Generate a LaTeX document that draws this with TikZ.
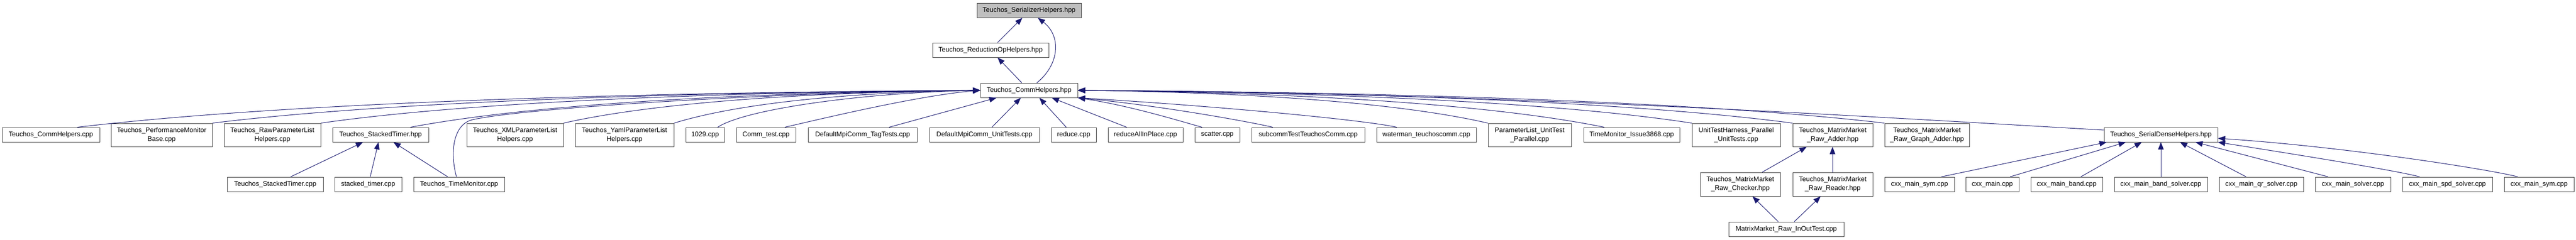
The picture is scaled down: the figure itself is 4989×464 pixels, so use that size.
\documentclass[tikz,border=0pt]{standalone}
\usepackage{fontspec}
\setmainfont{Liberation Sans}
\usetikzlibrary{arrows.meta}
\definecolor{mblue}{HTML}{191970}
\definecolor{hgray}{HTML}{BFBFBF}
\newcommand\mknode[6]{\node[nbox, minimum width={(#4-#2)*0.75pt}, minimum height={(#5-#3)*0.75pt}] (#1) at ({(#2+#4)/2},{(#3+#5)/2}) {#6};}
\begin{document}
\begin{tikzpicture}[x=0.75pt,y=-0.75pt,
  nbox/.style={draw=black!75, line width=0.75pt, fill=white, inner sep=0pt, align=center, font=\fontsize{9.75pt}{12.75pt}\selectfont},
  edge/.style={draw=mblue, line width=0.75pt, -{Triangle[length=10.5pt,width=8pt]}}]
\fill[white] (0,0) rectangle (4989,464);
\useasboundingbox (0,0) rectangle (4989,464);
% top
\node[nbox, fill=hgray, minimum width={202*0.75pt}, minimum height={28*0.75pt}] (ser) at (1993,20) {Teuchos\_SerializerHelpers.hpp};
\mknode{rop}{1806}{83}{2031}{111}{Teuchos\_ReductionOpHelpers.hpp}
\mknode{chh}{1899}{161}{2087}{189}{Teuchos\_CommHelpers.hpp}
% row 4
\mknode{cch}{4}{247}{193}{275}{Teuchos\_CommHelpers.cpp}
\mknode{pmb}{215}{239}{411}{284}{Teuchos\_PerformanceMonitor\\Base.cpp}
\mknode{raw}{434}{239}{621}{284}{Teuchos\_RawParameterList\\Helpers.cpp}
\mknode{sth}{644}{247}{830}{275}{Teuchos\_StackedTimer.hpp}
\mknode{xml}{904}{239}{1091}{284}{Teuchos\_XMLParameterList\\Helpers.cpp}
\mknode{yml}{1114}{239}{1305}{284}{Teuchos\_YamlParameterList\\Helpers.cpp}
\mknode{nlz}{1328}{247}{1403}{275}{1029.cpp}
\mknode{ctest}{1426}{247}{1541}{275}{Comm\_test.cpp}
\mknode{tag}{1565}{247}{1776}{275}{DefaultMpiComm\_TagTests.cpp}
\mknode{dmut}{1800}{247}{2013}{275}{DefaultMpiComm\_UnitTests.cpp}
\mknode{red}{2036}{247}{2123}{275}{reduce.cpp}
\mknode{rai}{2146}{247}{2291}{275}{reduceAllInPlace.cpp}
\mknode{sca}{2314}{247}{2401}{275}{scatter.cpp}
\mknode{sub}{2424}{247}{2643}{275}{subcommTestTeuchosComm.cpp}
\mknode{wat}{2666}{247}{2859}{275}{waterman\_teuchoscomm.cpp}
\mknode{plu}{2882}{239}{3043}{284}{ParameterList\_UnitTest\\\_Parallel.cpp}
\mknode{tmi}{3067}{247}{3253}{275}{TimeMonitor\_Issue3868.cpp}
\mknode{uth}{3277}{239}{3448}{284}{UnitTestHarness\_Parallel\\\_UnitTests.cpp}
\mknode{mma}{3472}{239}{3627}{284}{Teuchos\_MatrixMarket\\\_Raw\_Adder.hpp}
\mknode{mmg}{3650}{239}{3814}{284}{Teuchos\_MatrixMarket\\\_Raw\_Graph\_Adder.hpp}
\mknode{sdh}{4075}{247}{4295}{275}{Teuchos\_SerialDenseHelpers.hpp}
% row 5
\mknode{stc}{440}{343}{626}{371}{Teuchos\_StackedTimer.cpp}
\mknode{stt}{648}{343}{778}{371}{stacked\_timer.cpp}
\mknode{tmc}{801}{343}{977}{371}{Teuchos\_TimeMonitor.cpp}
\mknode{mmc}{3293}{334}{3448}{380}{Teuchos\_MatrixMarket\\\_Raw\_Checker.hpp}
\mknode{mmr}{3472}{334}{3627}{380}{Teuchos\_MatrixMarket\\\_Raw\_Reader.hpp}
\mknode{csa}{3650}{343}{3785}{371}{cxx\_main\_sym.cpp}
\mknode{cm}{3807}{343}{3910}{371}{cxx\_main.cpp}
\mknode{cb}{3933}{343}{4072}{371}{cxx\_main\_band.cpp}
\mknode{cbs}{4095}{343}{4275}{371}{cxx\_main\_band\_solver.cpp}
\mknode{cqr}{4298}{343}{4461}{371}{cxx\_main\_qr\_solver.cpp}
\mknode{cso}{4484}{343}{4630}{371}{cxx\_main\_solver.cpp}
\mknode{csp}{4653}{343}{4827}{371}{cxx\_main\_spd\_solver.cpp}
\mknode{csb}{4850}{343}{4985}{371}{cxx\_main\_sym.cpp}
% row 6
\mknode{io}{3348}{430}{3571}{458}{MatrixMarket\_Raw\_InOutTest.cpp}
% edges top
\draw[edge] (rop.north -| 1932,0) -- (ser.south -| 1980,0);
\draw[edge] (chh.north -| 1979,0) -- (rop.south -| 1932,0);
\draw[edge] (chh.north -| 2008,0) .. controls (2052,125) and (2056,70) .. (ser.south -| 2010,0);
% left group
\draw[edge] (cch.north -| 150,0) .. controls (500,205) and (1094,180) .. (chh.west);
\draw[edge] (pmb.north east) .. controls (709,202) and (1215,179.5) .. (chh.west);
\draw[edge] (raw.north east) .. controls (877,202) and (1311,179.5) .. (chh.west);
\draw[edge] (sth.north -| 795,0) .. controls (1016,205) and (1391,180) .. (chh.west);
\draw[edge] (tmc.north -| 884,0) .. controls (870,290) and (880,240) .. (915,232) .. controls (1015,209) and (1500,179) .. (chh.west);
\draw[edge] (xml.north east) .. controls (1253,202) and (1527,179.5) .. (chh.west);
\draw[edge] (yml.north east) .. controls (1424,202) and (1626,179.5) .. (chh.west);
\draw[edge] (nlz.north -| 1390,0) .. controls (1442,212) and (1665,180) .. (chh.west);
\draw[edge] (ctest.north -| 1520,0) .. controls (1600,228) and (1780,185) .. (chh.west);
% bottom group
\draw[edge] (tag.north -| 1722,0) -- (chh.south -| 1930,0);
\draw[edge] (dmut.north -| 1921,0) -- (chh.south -| 1977,0);
\draw[edge] (red.north -| 2065,0) -- (chh.south -| 2013,0);
\draw[edge] (rai.north -| 2182,0) -- (chh.south -| 2037,0);
\draw[edge] (sca.north -| 2328,0) .. controls (2290,236) and (2190,205) .. (chh.south east);
\draw[edge] (sub.north -| 2465,0) .. controls (2420,236) and (2250,205) .. (chh.south east);
\draw[edge] (wat.north -| 2705,0) .. controls (2640,232) and (2350,205) .. (chh.south east);
% right group
\draw[edge] (plu.north west) .. controls (2723,202) and (2453,179.5) .. (chh.east);
\draw[edge] (tmi.north -| 3107,0) .. controls (2903,205) and (2556,180) .. (chh.east);
\draw[edge] (uth.north west) .. controls (3039,202) and (2634,179.5) .. (chh.east);
\draw[edge] (mma.north west) .. controls (3195,202) and (2724,179.5) .. (chh.east);
\draw[edge] (mmg.north west) .. controls (3337,202) and (2806,179.5) .. (chh.east);
\draw[edge] (sdh.west |- 0,252) .. controls (3600,225) and (2900,180) .. (chh.east);
% stacked timer
\draw[edge] (stc.north -| 563,0) -- (sth.south -| 703,0);
\draw[edge] (stt.north -| 717,0) -- (sth.south -| 733,0);
\draw[edge] (tmc.north -| 867,0) -- (sth.south -| 762,0);
% matrix market
\draw[edge] (mmc.north -| 3413,0) -- (mma.south -| 3499,0);
\draw[edge] (mmr.north -| 3549,0) -- (mma.south -| 3549,0);
\draw[edge] (io.north -| 3444,0) -- (mmc.south -| 3394,0);
\draw[edge] (io.north -| 3475,0) -- (mmr.south -| 3526,0);
% serial dense
\draw[edge] (csa.north -| 3760,0) -- (sdh.south -| 4080,0);
\draw[edge] (cm.north -| 3893,0) -- (sdh.south -| 4117,0);
\draw[edge] (cb.north -| 4030,0) -- (sdh.south -| 4148,0);
\draw[edge] (cbs.north) -- (sdh.south);
\draw[edge] (cqr.north -| 4350,0) -- (sdh.south -| 4222,0);
\draw[edge] (cso.north -| 4509,0) -- (sdh.south -| 4252,0);
\draw[edge] (csp.north -| 4686,0) .. controls (4640,330) and (4420,295) .. (sdh.south east);
\draw[edge] (csb.north -| 4876,0) .. controls (4830,330) and (4550,285) .. (sdh.east |- 0,268);
\end{tikzpicture}
\end{document}
